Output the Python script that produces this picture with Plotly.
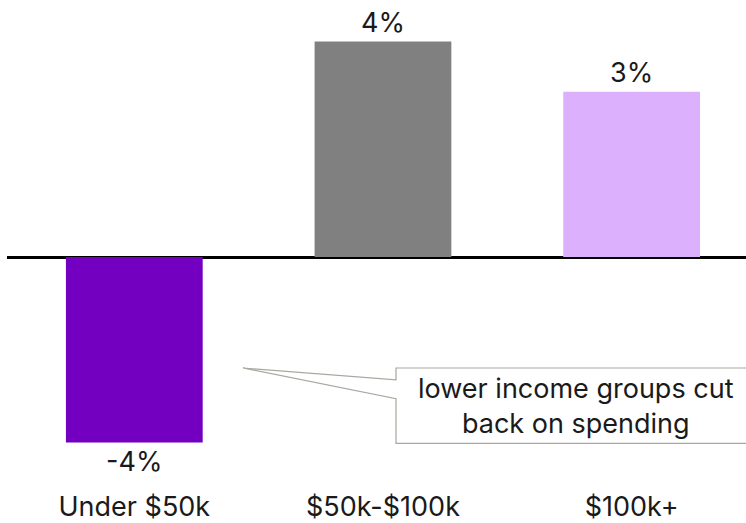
import plotly.graph_objects as go

# Change in spending by household income
categories = ["Under $50k", "$50k-$100k", "$100k+"]
change_pct = [-3.7, 4.3, 3.3]
bar_colors = ["#7300C0", "#808080", "#DDB0FE"]
note_text = "lower income groups cut<br>back on spending"

FONT = "Inter"
FS = 27

W, H = 746, 523
ML, MR, MT, MB = 7, 0, 0, 31
plot_w = W - ML - MR
plot_h = H - MT - MB

x_pos = list(range(len(categories)))
x_range = [-0.512, 2.46]
y_range = [-4.61, 5.13]

fig = go.Figure(
    go.Bar(
        x=x_pos,
        y=change_pct,
        marker=dict(color=bar_colors, line=dict(width=0)),
        width=0.55,
        text=change_pct,
        texttemplate="%{y:.0f}%",
        textposition="outside",
        textfont=dict(family=FONT, size=FS, color="#1a1a1a"),
        cliponaxis=False,
        showlegend=False,
    )
)


# helpers converting pixel positions on the page into paper coordinates
def px_x(px):
    return (px - ML) / plot_w


def px_y(py):
    return 1 - (py - MT) / plot_h


def to_path(points):
    return "M " + " L ".join(f"{px_x(a):.5f},{px_y(b):.5f}" for a, b in points)


# callout box with a pointer toward the first bar; the box runs off the right edge,
# so the path is left open there (the fill closes it implicitly, unstroked)
tip = (243, 371)
box_l, box_r, box_t, box_b = 396, 800, 371, 447
edge_pts = [(box_r, box_t), (box_l, box_t), (box_l, 383), tip, (box_l, 402), (box_l, box_b), (box_r, box_b)]
fig.add_shape(
    type="path", path=to_path(edge_pts), xref="paper", yref="paper",
    fillcolor="white", line=dict(color="#A8A8A0", width=1.2), layer="above",
)
fig.add_annotation(
    x=px_x(576), y=px_y(409), xref="paper", yref="paper",
    xanchor="center", yanchor="middle",
    text=note_text, showarrow=False, align="center",
    font=dict(family=FONT, size=FS, color="#1a1a1a"),
)

fig.update_layout(
    width=W, height=H,
    margin=dict(l=ML, r=MR, t=MT, b=MB),
    paper_bgcolor="white", plot_bgcolor="white",
    font=dict(family=FONT, size=FS, color="#1a1a1a"),
    xaxis=dict(
        range=x_range, tickmode="array", tickvals=x_pos, ticktext=categories,
        showgrid=False, zeroline=False, showline=False, ticks="",
        tickfont=dict(family=FONT, size=FS, color="#1a1a1a"), fixedrange=True,
    ),
    yaxis=dict(
        range=y_range, showgrid=False, showticklabels=False, ticks="",
        zeroline=True, zerolinecolor="#000000", zerolinewidth=3, showline=False,
        fixedrange=True,
    ),
)

fig.write_html("out.html")
